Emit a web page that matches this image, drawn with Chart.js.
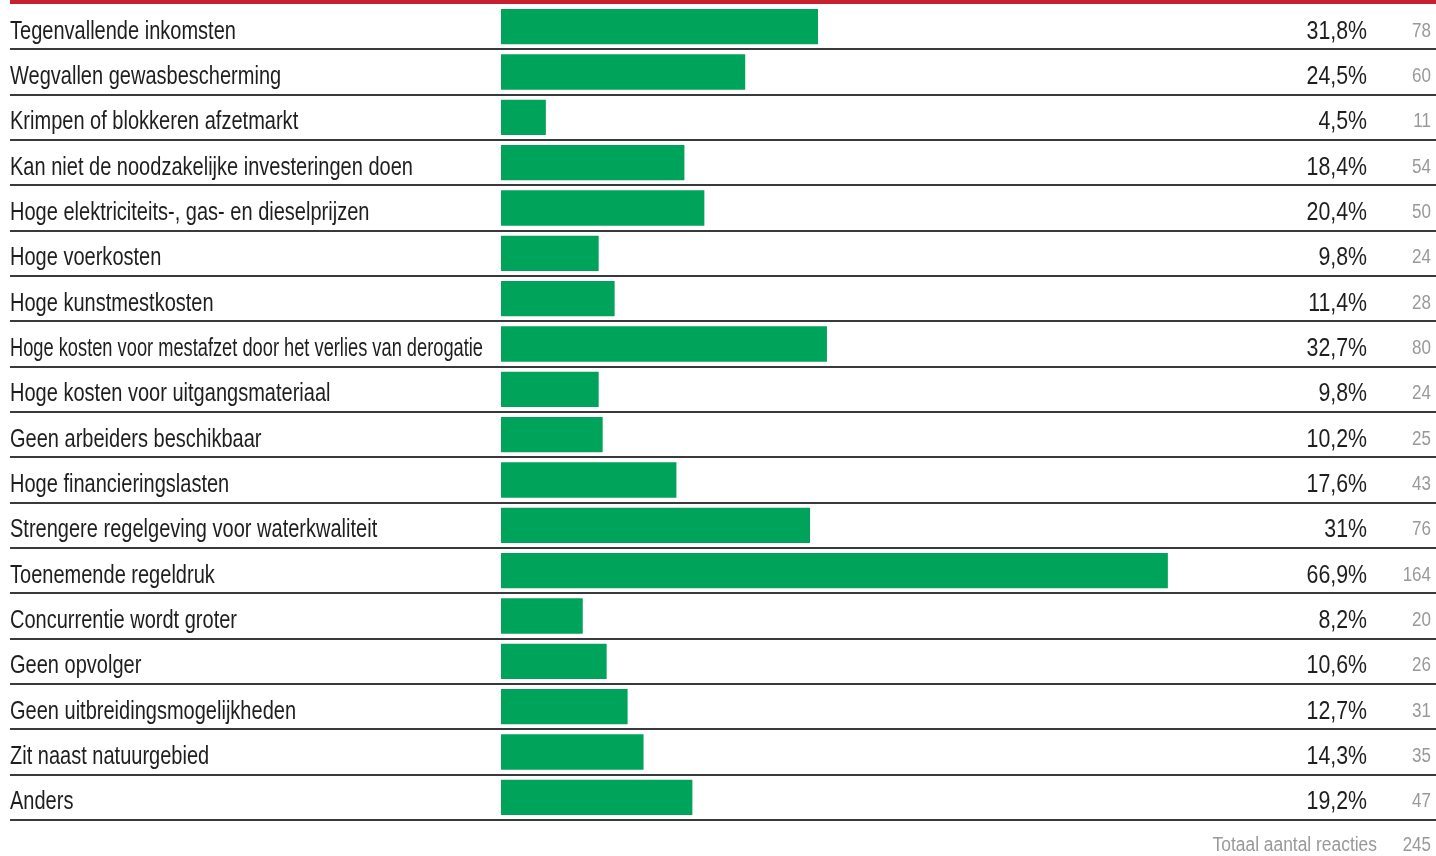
<!DOCTYPE html>
<html lang="nl">
<head>
  <meta charset="UTF-8">
  <title>Knelpunten</title>
  <script src="https://cdn.jsdelivr.net/npm/chart.js"></script>
  <style>
    body { margin: 0; background: #fff; }
    .wrap { position: relative; width: 1436px; height: 856px; }
    .redline { position: absolute; left: 10px; right: 0; top: 0; height: 4px; background: #c8202f; }
  </style>
</head>
<body>
  <div class="wrap">
    <canvas id="chart" width="1436" height="856"></canvas>
    <div class="redline"></div>
  </div>
  <script>
    const categories = [
      'Tegenvallende inkomsten',
      'Wegvallen gewasbescherming',
      'Krimpen of blokkeren afzetmarkt',
      'Kan niet de noodzakelijke investeringen doen',
      'Hoge elektriciteits-, gas- en dieselprijzen',
      'Hoge voerkosten',
      'Hoge kunstmestkosten',
      'Hoge kosten voor mestafzet door het verlies van derogatie',
      'Hoge kosten voor uitgangsmateriaal',
      'Geen arbeiders beschikbaar',
      'Hoge financieringslasten',
      'Strengere regelgeving voor waterkwaliteit',
      'Toenemende regeldruk',
      'Concurrentie wordt groter',
      'Geen opvolger',
      'Geen uitbreidingsmogelijkheden',
      'Zit naast natuurgebied',
      'Anders'
    ];
    const percentages = [31.8, 24.5, 4.5, 18.4, 20.4, 9.8, 11.4, 32.7, 9.8, 10.2, 17.6, 31, 66.9, 8.2, 10.6, 12.7, 14.3, 19.2];
    const counts = [78, 60, 11, 54, 50, 24, 28, 80, 24, 25, 43, 76, 164, 20, 26, 31, 35, 47];
    const totalLabel = 'Totaal aantal reacties';
    const total = 245;

    const FONT = '"Liberation Sans", Arial, sans-serif';

    // no condensed face installed, so squeeze the text horizontally
    function squeezed(ctx, text, x, y, sx, align, maxW) {
      ctx.save();
      ctx.translate(x, y);
      ctx.scale(sx, 1);
      ctx.textAlign = align;
      if (maxW) ctx.fillText(text, 0, 0, maxW / sx);
      else ctx.fillText(text, 0, 0);
      ctx.restore();
    }

    const rowsPlugin = {
      id: 'rows',
      afterDatasetsDraw(chart) {
        const ctx = chart.ctx;
        const y = chart.scales.y;
        const area = chart.chartArea;
        const half = (y.getPixelForValue(1) - y.getPixelForValue(0)) / 2;
        ctx.save();
        ctx.strokeStyle = '#3a3a3a';
        ctx.lineWidth = 2;
        categories.forEach((c, i) => {
          const py = Math.round(y.getPixelForValue(i) + half);
          ctx.beginPath();
          ctx.moveTo(10, py);
          ctx.lineTo(area.right, py);
          ctx.stroke();
        });
        ctx.textBaseline = 'alphabetic';
        categories.forEach((c, i) => {
          const py = y.getPixelForValue(i);
          ctx.fillStyle = '#1e1e1e';
          ctx.font = '26px ' + FONT;
          squeezed(ctx, c, 10, py + 12, 0.77, 'left', area.left - 28);
          squeezed(ctx, String(percentages[i]).replace('.', ',') + '%', area.right - 69, py + 12, 0.82, 'right');
          ctx.fillStyle = '#999';
          ctx.font = '20px ' + FONT;
          squeezed(ctx, String(counts[i]), area.right - 5, py + 10, 0.85, 'right');
        });
        ctx.fillStyle = '#999';
        ctx.font = '20px ' + FONT;
        squeezed(ctx, String(total), area.right - 5, area.bottom + 31, 0.85, 'right');
        squeezed(ctx, totalLabel, area.right - 59, area.bottom + 31, 0.87, 'right');
        ctx.restore();
      }
    };

    new Chart(document.getElementById('chart'), {
      type: 'bar',
      data: {
        labels: categories,
        datasets: [{
          data: percentages,
          backgroundColor: '#00a35a',
          barPercentage: 0.78,
          categoryPercentage: 1
        }]
      },
      options: {
        indexAxis: 'y',
        responsive: false,
        animation: false,
        layout: { padding: { left: 10, top: 4, right: 0, bottom: 36 } },
        plugins: { legend: { display: false }, tooltip: { enabled: false } },
        scales: {
          x: { min: 0, max: 93.8, display: false },
          y: {
            grid: { display: false },
            border: { display: false },
            ticks: { display: false },
            afterFit(scale) { scale.width = 491; }
          }
        }
      },
      plugins: [rowsPlugin]
    });
  </script>
</body>
</html>
